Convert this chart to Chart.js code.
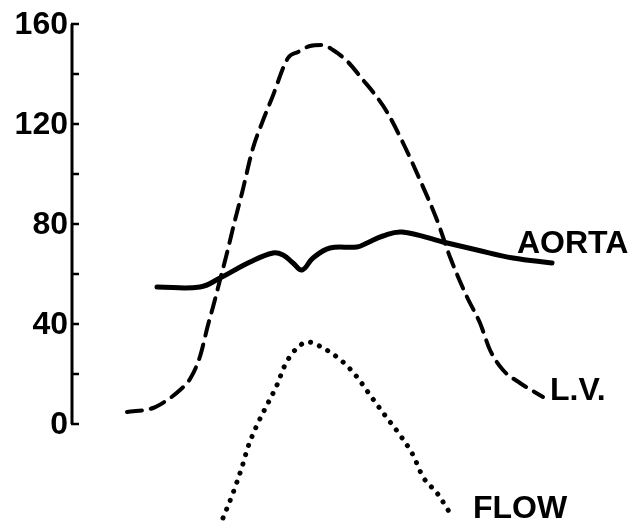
<!DOCTYPE html>
<html>
<head>
<meta charset="utf-8">
<script src="https://cdn.jsdelivr.net/npm/chart.js@4/dist/chart.umd.min.js"></script>
<style>
  html, body { margin: 0; padding: 0; background: #fff; }
  #wrap { width: 628px; height: 521px; }
</style>
</head>
<body>
<div id="wrap"><canvas id="chart"></canvas></div>
<script>
// pressure (mm Hg) against time, time in arbitrary units from the axis
const lv_time = [55, 81, 93, 108, 118, 128, 136, 141, 148, 155, 163, 170, 181, 190, 200, 216, 226, 238, 250, 261, 276, 291, 301, 315, 333, 348, 365, 378, 395, 408, 418, 431, 448, 471]
const lv_pressure = [4.8, 6.4, 9, 13.6, 18, 27, 39.6, 46.8, 57.6, 68.4, 81.6, 92.4, 110.4, 120.4, 130.4, 146.4, 148.8, 151.2, 151.6, 149.6, 144.8, 137.6, 132.8, 124.8, 110.8, 97.6, 81.6, 66.8, 50.8, 40.4, 29.6, 21.6, 16.4, 10.8]

const aorta_time = [85, 128, 148, 178, 201, 211, 221, 230, 241, 258, 285, 295, 311, 330, 371, 405, 441, 480]
const aorta_pressure = [54.8, 54.8, 58.4, 64.8, 68.4, 67.6, 64.4, 61.6, 66.4, 70.4, 70.8, 72.4, 75.2, 76.8, 72.8, 69.6, 66.4, 64.4]

const flow_time = [151, 161, 170, 176, 185, 195, 205, 213, 225, 236, 251, 271, 285, 298, 315, 328, 341, 351, 365, 381]
const flow_value = [-37.6, -27.6, -17.2, -9.2, -0.4, 7.6, 15.6, 23.6, 30.4, 32.8, 30.4, 24.8, 18.8, 11.6, 2.4, -4.4, -12.4, -21.2, -27.6, -37.6]

const y_ticks = [0, 20, 40, 60, 80, 100, 120, 140, 160]
const y_labels = ["0", "", "40", "", "80", "", "120", "", "160"]
const curve_names = ["AORTA", "L.V.", "FLOW"]

function to_points(xs, ys) {
    return xs.map((x, i) => ({ x: x, y: ys[i] }))
}

const ink = "#000000"
const label_font = "bold 32px 'Liberation Sans', Arial, sans-serif"

// where each curve name sits, in data units
const name_spots = [
    { x: 445, y: 72 },
    { x: 478, y: 13.2 },
    { x: 401, y: -34 }
]

const axis_plugin = {
    id: "axis_plugin",
    afterDraw(chart) {
        const c = chart.ctx
        const ys = chart.scales.y
        const xs = chart.scales.x
        const x0 = chart.chartArea.left
        c.save()
        c.strokeStyle = ink
        c.lineWidth = 3
        c.beginPath()
        c.moveTo(x0, ys.getPixelForValue(0))
        c.lineTo(x0, ys.getPixelForValue(160))
        c.stroke()
        c.lineWidth = 2.5
        c.fillStyle = ink
        c.font = label_font
        c.textBaseline = "middle"
        c.textAlign = "right"
        y_ticks.forEach((t, i) => {
            let py = ys.getPixelForValue(t)
            c.beginPath()
            c.moveTo(x0 - 1, py)
            c.lineTo(x0 + 7, py)
            c.stroke()
            if (y_labels[i]) c.fillText(y_labels[i], x0 - 4, py + 1)
        })
        c.textAlign = "left"
        curve_names.forEach((name, i) => {
            c.fillText(name, xs.getPixelForValue(name_spots[i].x), ys.getPixelForValue(name_spots[i].y))
        })
        c.restore()
    }
}

new Chart(document.getElementById("chart"), {
    type: "line",
    data: {
        datasets: [
            {
                label: "AORTA",
                data: to_points(aorta_time, aorta_pressure),
                borderColor: ink,
                borderWidth: 5,
                borderCapStyle: "round",
                borderJoinStyle: "round",
                pointRadius: 0,
                tension: 0.4
            },
            {
                label: "L.V.",
                data: to_points(lv_time, lv_pressure),
                borderColor: ink,
                borderWidth: 4,
                borderDash: [15, 9],
                borderCapStyle: "round",
                pointRadius: 0,
                cubicInterpolationMode: "monotone"
            },
            {
                label: "FLOW",
                data: to_points(flow_time, flow_value),
                borderColor: ink,
                borderWidth: 5,
                borderDash: [0.1, 9.5],
                borderCapStyle: "round",
                pointRadius: 0,
                cubicInterpolationMode: "monotone"
            }
        ]
    },
    options: {
        responsive: true,
        maintainAspectRatio: false,
        animation: false,
        layout: { padding: 0 },
        plugins: {
            legend: { display: false },
            tooltip: { enabled: false }
        },
        scales: {
            x: {
                type: "linear",
                display: false,
                min: 0,
                max: 556
            },
            y: {
                type: "linear",
                min: -38.8,
                max: 169.6,
                afterBuildTicks(scale) {
                    scale.ticks = y_ticks.map(v => ({ value: v }))
                },
                afterFit(scale) {
                    scale.width = 72
                },
                grid: { display: false },
                border: { display: false },
                ticks: { display: false }
            }
        }
    },
    plugins: [axis_plugin]
})
</script>
</body>
</html>
